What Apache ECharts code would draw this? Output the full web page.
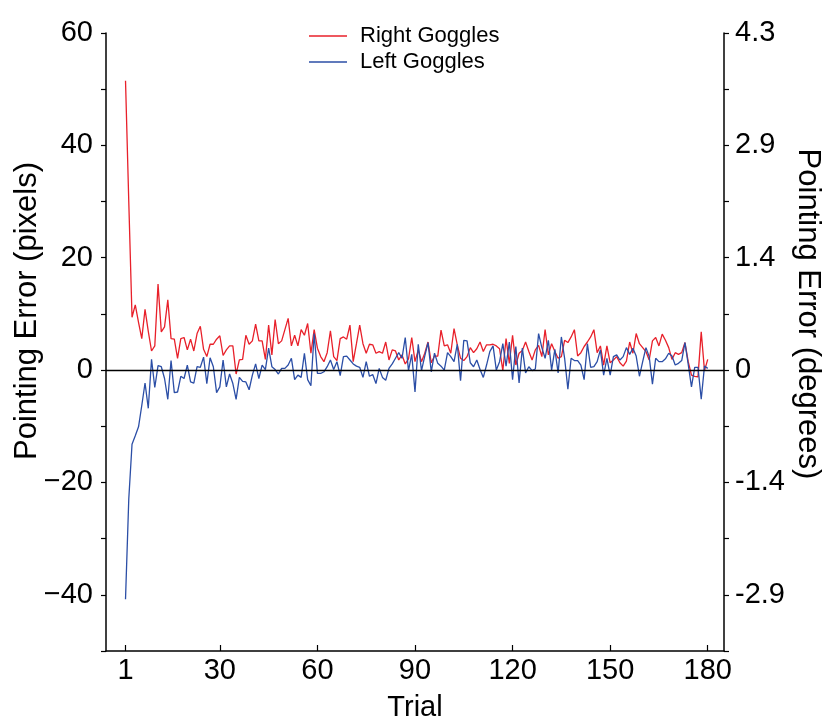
<!DOCTYPE html>
<html>
<head>
<meta charset="utf-8">
<script src="https://cdn.jsdelivr.net/npm/echarts@6/dist/echarts.min.js"></script>
<style>
html,body{margin:0;padding:0;background:#fff;}
#chart{width:825px;height:719px;}
</style>
</head>
<body>
<div id="chart"></div>
<script>
// Trials 1..180
const trials = Array.from({length: 180}, (_, i) => i + 1);

const rightGoggles = [
  51.5, 30, 9.4, 11.6, 8.5, 5.6, 10.8, 6.9, 3.4, 4.3,
  15.3, 6.8, 7.7, 12.5, 5.6, 5.5, 2.1, 5.6, 5.8, 3.6,
  5.5, 3.4, 6.5, 7.8, 3.7, 2.4, 4.6, 4.6, 5.5, 6.1,
  2.6, 3.6, 4.3, 4.3, -0.7, 1.8, 1.9, 6.2, 4.6, 5.2,
  8.2, 5.2, 5.2, 1.9, 8.0, 2.7, 9.0, 4.7, 5.2, 7.2,
  9.2, 4.3, 6.2, 4.3, 7.2, 6.2, 8.3, 3.0, 7.2, 3.9,
  2.4, 1.5, 3.1, 7.0, 2.4, 1.7, 5.6, 5.9, 5.5, 8.0,
  1.5, 4.7, 8.0, 4.7, 3.0, 4.6, 4.5, 3.0, 3.3, 3.0,
  5.0, 1.8, 3.6, 3.4, 1.8, 2.7, 1.1, 2.0, 5.8, 1.5,
  3.6, 1.5, 3.0, 5.0, 1.3, 2.5, 2.5, 7.1, 4.3, 4.5,
  3.0, 7.4, 4.5, 2.1, 1.7, 2.4, 4.0, 3.1, 3.8, 5.0,
  3.3, 4.5, 4.5, 4.6, 4.3, 3.8, -0.1, 5.6, 1.2, 6.2,
  0.9, 3.0, 3.5, 5.0, 3.3, 1.8, 3.6, 4.4, 2.4, 7.2,
  2.7, 4.7, 3.3, 2.1, 2.4, 5.3, 4.9, 5.9, 7.2, 2.5,
  3.1, 4.2, 5.0, 5.9, 7.2, 3.1, 4.3, 0.9, 4.3, 1.3,
  1.8, 2.4, 1.3, 0.7, 1.6, 5.0, 3.0, 6.5, 4.7, 4.0,
  3.3, 1.8, 5.2, 5.8, 4.3, 6.4, 5.3, 4.0, 1.9, 3.1,
  2.8, 3.1, 4.9, 1.5, -0.9, -1.1, -1.2, 6.8, -0.1, 1.9
];

const leftGoggles = [
  -40.8, -23, -13.2, -11.7, -10.1, -6.3, -2.3, -6.8, 1.9, -3.1,
  0.8, 0.6, -1.5, -5.2, 1.7, -4.0, -3.9, -1.1, -1.5, 0.9,
  -2.1, -2.3, 0.6, 0.5, 2.3, -2.4, 2.2, 0.6, -4.0, -3.0,
  1.8, -3.0, -0.7, -2.4, -5.2, -1.3, -2.0, -2.1, -3.5, -0.9,
  1.1, -1.5, 0.9, 0.1, 3.9, 0.6, 0.1, -0.7, 0.3, 0.3,
  0.9, 2.1, -1.7, -0.9, -1.3, 3.0, -1.7, -2.8, 6.5, -0.6,
  -0.6, -0.3, 0.6, 1.8, 0.1, 1.5, -1.0, 2.4, 2.5, 1.8,
  1.1, 0.7, 0.5, -1.3, 1.5, -1.1, -0.8, -2.4, 0.3, -1.3,
  -1.8, 0.3, 1.1, 2.1, 3.1, 2.1, 5.8, -0.1, 2.8, -3.9,
  4.6, -0.1, 2.5, 4.9, -0.3, 3.0, 1.2, 0.7, 0.0, 3.1,
  2.4, 1.5, 4.6, -1.9, 5.3, 5.2, 1.3, 0.6, 1.8, 0.1,
  -1.3, 0.9, 3.3, 4.3, 0.0, 1.5, 4.7, 0.7, 5.0, -1.7,
  4.2, -2.3, 3.9, -0.5, 0.6, -0.1, 0.2, 6.5, 4.0, 2.1,
  5.3, 0.0, 3.7, -0.5, 5.9, 2.1, -3.4, 2.1, 1.7, 1.7,
  0.9, -1.7, 4.7, 0.5, 0.6, 1.5, 3.6, -0.9, 2.1, -0.9,
  2.4, 2.7, 1.8, 2.4, 4.0, 2.8, 3.9, 2.5, -1.1, 1.5,
  4.0, 2.4, -2.5, 2.1, 1.5, 1.5, 2.0, 3.0, 2.5, 0.9,
  1.2, 1.7, 4.9, 1.0, -3.0, 0.5, 0.5, -5.2, 0.7, 0.3
];

const xTickValues = [1, 30, 60, 90, 120, 150, 180];
const leftTickLabels = {"60": "60", "40": "40", "20": "20", "0": "0", "-20": "\u221220", "-40": "\u221240"};
const rightTickLabels = {"60": "4.3", "40": "2.9", "20": "1.4", "0": "0", "-20": "-1.4", "-40": "-2.9"};

const FONT = "'Liberation Sans', Arial, Helvetica, sans-serif";
const chart = echarts.init(document.getElementById('chart'), null, {renderer: 'canvas'});

const axisLineStyle = {color: '#000', width: 1.5};

chart.setOption({
  backgroundColor: '#fff',
  animation: false,
  textStyle: {fontFamily: FONT, color: '#000'},
  legend: {
    orient: 'vertical',
    left: 304,
    top: 20,
    icon: 'rect',
    itemWidth: 38,
    itemHeight: 1.5,
    itemGap: 4,
    textStyle: {fontFamily: FONT, fontSize: 22, color: '#000', padding: [0, 0, 0, 8]},
    data: ['Right Goggles', 'Left Goggles']
  },
  graphic: [
    {
      type: 'text', x: 27, y: 311, rotation: Math.PI / 2,
      style: {text: 'Pointing Error (pixels)', font: "31px 'Liberation Sans', Arial, sans-serif", fill: '#000', align: 'center', verticalAlign: 'middle'}
    },
    {
      type: 'text', x: 808, y: 314, rotation: -Math.PI / 2,
      style: {text: 'Pointing Error (degrees)', font: "31px 'Liberation Sans', Arial, sans-serif", fill: '#000', align: 'center', verticalAlign: 'middle'}
    }
  ],
  grid: {left: 106, right: 101, top: 33, bottom: 68, containLabel: false, outerBoundsMode: 'none'},
  xAxis: {
    type: 'value',
    min: -5,
    max: 185,
    name: 'Trial',
    nameLocation: 'middle',
    nameGap: 42,
    nameTextStyle: {fontFamily: FONT, fontSize: 29, color: '#000'},
    splitLine: {show: false},
    axisLine: {show: true, onZero: false, lineStyle: axisLineStyle},
    axisTick: {show: true, inside: true, length: 6, customValues: xTickValues, lineStyle: {color: '#000', width: 1.2}},
    axisLabel: {customValues: xTickValues, fontFamily: FONT, fontSize: 29, color: '#000', margin: 5}
  },
  yAxis: [
    {
      type: 'value',
      position: 'left',
      min: -50,
      max: 60,
      interval: 10,
      splitLine: {show: false},
      axisLine: {show: true, onZero: false, lineStyle: axisLineStyle},
      axisTick: {show: true, inside: false, length: 5, lineStyle: {color: '#000', width: 1.2}},
      axisLabel: {
        fontFamily: FONT, fontSize: 29, color: '#000', margin: 13,
        formatter: v => leftTickLabels[String(v)] || ''
      }
    },
    {
      type: 'value',
      position: 'right',
      min: -50,
      max: 60,
      interval: 10,
      splitLine: {show: false},
      axisLine: {show: true, onZero: false, lineStyle: axisLineStyle},
      axisTick: {show: true, inside: false, length: 5, lineStyle: {color: '#000', width: 1.2}},
      axisLabel: {
        fontFamily: FONT, fontSize: 29, color: '#000', margin: 11,
        formatter: v => rightTickLabels[String(v)] || ''
      }
    }
  ],
  series: [
    {
      name: 'Right Goggles',
      type: 'line',
      showSymbol: false,
      symbol: 'none',
      color: '#e8202a',
      lineStyle: {color: '#e8202a', width: 1.3},
      data: trials.map((t, i) => [t, rightGoggles[i]]),
      markLine: {
        silent: true,
        symbol: ['none', 'none'],
        label: {show: false},
        lineStyle: {color: '#000', width: 1.3, type: 'solid'},
        data: [{yAxis: 0}]
      },
      z: 3
    },
    {
      name: 'Left Goggles',
      type: 'line',
      showSymbol: false,
      symbol: 'none',
      color: '#2b4ea6',
      lineStyle: {color: '#2b4ea6', width: 1.3},
      data: trials.map((t, i) => [t, leftGoggles[i]]),
      z: 4
    }
  ]
});
</script>
</body>
</html>
